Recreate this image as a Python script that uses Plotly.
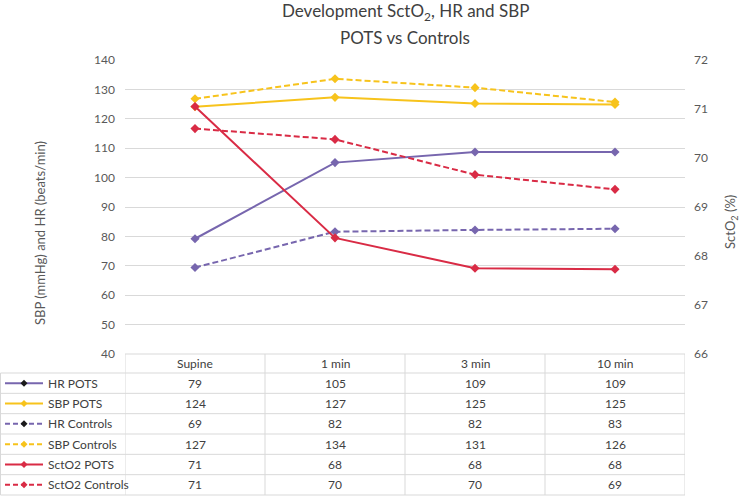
import plotly.graph_objects as go

# ---------------- data ----------------
categories = ["Supine", "1 min", "3 min", "10 min"]
hr_pots = [79.2, 105.1, 108.7, 108.7]
sbp_pots = [124.1, 127.3, 125.2, 124.9]
hr_controls = [69.4, 81.6, 82.2, 82.6]
sbp_controls = [126.8, 133.6, 130.6, 125.7]
scto2_pots = [71.05, 68.37, 67.75, 67.73]
scto2_controls = [70.60, 70.38, 69.66, 69.36]
series_names = ["HR POTS", "SBP POTS", "HR Controls", "SBP Controls", "SctO2 POTS", "SctO2 Controls"]
left_ticks = list(range(40, 141, 10))
right_ticks = list(range(66, 73))

# ---------------- styling ----------------
PURPLE = "#7766AE"
YELLOW = "#F7C31C"
RED = "#D92B45"
GRID = "#D9D9D9"
TXT = "#404040"
TICK = "#595959"
FONT = "Lato"

series = [
    (hr_pots, PURPLE, "solid", "y", "#1a1a1a"),
    (sbp_pots, YELLOW, "solid", "y", YELLOW),
    (hr_controls, PURPLE, "6px,3px", "y", "#1a1a1a"),
    (sbp_controls, YELLOW, "6px,3px", "y", YELLOW),
    (scto2_pots, RED, "solid", "y2", RED),
    (scto2_controls, RED, "6px,3px", "y2", RED),
]

W, H = 747, 496
L, R, T, B = 125, 62, 60, 142
PW, PH = W - L - R, H - T - B
BOTTOM = H - B  # pixel y of plot bottom


def pxx(x):
    return (x - L) / PW


def pxy(y):
    return (BOTTOM - y) / PH


fig = go.Figure()
for (vals, color, dash, yax, _), name in zip(series, series_names):
    fig.add_trace(go.Scatter(
        x=categories, y=vals, name=name, yaxis=yax,
        mode="lines+markers",
        line=dict(color=color, width=2, dash=dash),
        marker=dict(symbol="diamond", size=7, color=color),
        showlegend=False, cliponaxis=False,
    ))

shapes = []
annotations = []

# ---- data table ----
header_top, header_bot = BOTTOM, BOTTOM + 19
table_bot = 495
rh = (table_bot - header_bot) / len(series_names)
line_style = dict(color=GRID, width=1)

shapes.append(dict(type="line", xref="x", yref="paper", x0=-0.5, x1=len(categories) - 0.5,
                   y0=pxy(header_top), y1=pxy(header_top), line=line_style, layer="below"))
for i in range(len(series_names) + 1):
    yy = header_bot + i * rh
    shapes.append(dict(type="line", xref="paper", yref="paper", x0=pxx(0.5), x1=pxx(L + PW),
                       y0=pxy(yy), y1=pxy(yy), line=line_style))
for k in range(len(categories) + 1):
    xv = k - 0.5
    shapes.append(dict(type="line", xref="x", yref="paper", x0=xv, x1=xv,
                       y0=pxy(header_top), y1=pxy(table_bot), line=line_style))
shapes.append(dict(type="line", xref="paper", yref="paper", x0=pxx(0.5), x1=pxx(0.5),
                   y0=pxy(header_bot), y1=pxy(table_bot), line=line_style))

for c in categories:
    annotations.append(dict(x=c, xref="x", yref="paper", y=pxy((header_top + header_bot) / 2),
                            text=c, showarrow=False, font=dict(size=12, color=TXT, family=FONT),
                            xanchor="center", yanchor="middle"))

for i, ((vals, color, dash, yax, mcol), name) in enumerate(zip(series, series_names)):
    yc = header_bot + (i + 0.5) * rh
    dash_shape = "solid" if dash == "solid" else "5px,3px"
    shapes.append(dict(type="line", xref="paper", yref="paper", x0=pxx(5), x1=pxx(43),
                       y0=pxy(yc), y1=pxy(yc), line=dict(color=color, width=2, dash=dash_shape)))
    shapes.append(dict(type="path", xref="paper", yref="paper", xsizemode="pixel", ysizemode="pixel",
                       xanchor=pxx(24), yanchor=pxy(yc), path="M -3.5 0 L 0 3.5 L 3.5 0 L 0 -3.5 Z",
                       fillcolor=mcol, line=dict(color=mcol, width=0)))
    annotations.append(dict(x=pxx(46), xref="paper", yref="paper", y=pxy(yc), text=name,
                            showarrow=False, font=dict(size=12, color=TXT, family=FONT),
                            xanchor="left", yanchor="middle"))
    for c, v in zip(categories, vals):
        annotations.append(dict(x=c, xref="x", yref="paper", y=pxy(yc), text=str(int(round(v))),
                                showarrow=False, font=dict(size=12, color=TXT, family=FONT),
                                xanchor="center", yanchor="middle"))

annotations.append(dict(x=pxx(40), y=pxy(233), xref="paper", yref="paper", textangle=-90,
                        text="SBP (mmHg) and HR (beats/min)", showarrow=False,
                        font=dict(size=13, color=TICK, family=FONT), xanchor="center", yanchor="middle"))
annotations.append(dict(x=pxx(731), y=pxy(222), xref="paper", yref="paper", textangle=-90,
                        text="SctO<sub>2</sub> (%)", showarrow=False,
                        font=dict(size=13, color=TICK, family=FONT), xanchor="center", yanchor="middle"))
annotations.append(dict(x=0.5, xref="paper", y=pxy(12), yref="paper",
                        text="Development SctO<sub>2</sub>, HR and SBP", showarrow=False,
                        font=dict(size=17, color=TXT, family=FONT), xanchor="center", yanchor="middle"))
annotations.append(dict(x=0.5, xref="paper", y=pxy(37), yref="paper",
                        text="POTS vs Controls", showarrow=False,
                        font=dict(size=17, color=TXT, family=FONT), xanchor="center", yanchor="middle"))

fig.update_layout(
    width=W, height=H,
    margin=dict(l=L, r=R, t=T, b=B, pad=0),
    paper_bgcolor="white", plot_bgcolor="white",
    font=dict(family=FONT, color=TICK, size=12),
    xaxis=dict(type="category", range=[-0.5, len(categories) - 0.5], showticklabels=False,
               showgrid=False, zeroline=False, showline=False, ticks=""),
    yaxis=dict(range=[left_ticks[0], left_ticks[-1]], tickvals=left_ticks, showgrid=True,
               gridcolor=GRID, gridwidth=1, zeroline=False, showline=False, ticks="",
               ticklabelstandoff=9, tickfont=dict(size=12, color=TICK)),
    yaxis2=dict(range=[right_ticks[0], right_ticks[-1]], tickvals=right_ticks, overlaying="y",
                side="right", showgrid=False, zeroline=False, showline=False, ticks="",
                ticklabelstandoff=8, tickfont=dict(size=12, color=TICK)),
    shapes=shapes, annotations=annotations,
)

fig.write_html("out.html", config={"displayModeBar": False},
               post_script="document.body.style.margin='0';document.body.style.overflow='hidden';")
